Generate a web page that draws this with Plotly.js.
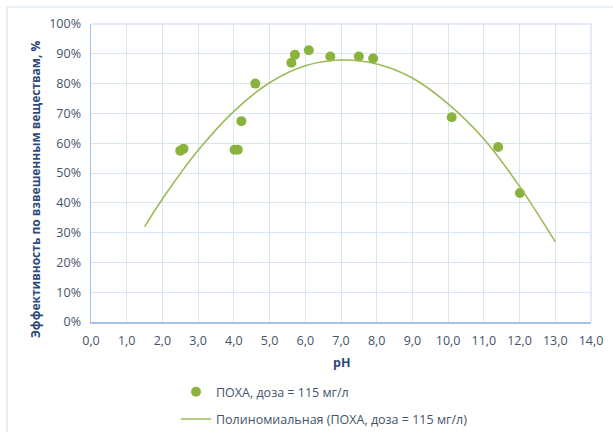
<!DOCTYPE html>
<html>
<head>
<meta charset="utf-8">
<script src="https://cdn.plot.ly/plotly-3.0.1.min.js"></script>
<style>html,body{margin:0;padding:0;background:#fff;}#chart{width:613px;height:432px;}</style>
</head>
<body>
<div id="chart"></div>
<script>
// measured points: pH and efficiency (%)
var pointsPH  = [2.50, 2.59, 4.02, 4.11, 4.21, 4.60, 5.61, 5.71, 6.10, 6.70, 7.50, 7.90, 10.10, 11.40, 12.01];
var pointsEff = [57.5, 58.1, 57.8, 57.8, 67.4, 80.0, 87.0, 89.7, 91.2, 89.1, 89.1, 88.4, 68.7, 58.7, 43.3];

// polynomial trendline
var trendPH  = [1.5, 2.0, 3.0, 4.0, 5.0, 6.0, 7.0, 8.0, 9.0, 10.0, 11.0, 12.0, 13.0];
var trendEff = [32.0, 41.3, 57.6, 70.7, 80.3, 86.0, 87.9, 86.6, 81.9, 73.2, 61.4, 45.5, 26.9];

var seriesName = 'ПОХА, доза = 115 мг/л';
var trendName  = 'Полиномиальная (ПОХА, доза = 115 мг/л)';
var xTitle = 'pH';
var yTitle = 'Эффективность по взвешенным веществам, %';

var textColor = '#44546A';
var gridColor = '#D9E5F5';
var axisColor = '#A7C1EA';
var font = '"Open Sans", "Noto Sans", sans-serif';

var data = [
  {
    x: pointsPH, y: pointsEff, type: 'scatter', mode: 'markers', name: seriesName,
    legendgroup: 'a',
    marker: {size: 10, color: '#8AB33E', line: {width: 0}}
  },
  {
    x: trendPH, y: trendEff, type: 'scatter', mode: 'lines', name: trendName,
    legendgroup: 'b',
    line: {color: '#9BBB59', width: 1.6, shape: 'spline', smoothing: 1}
  }
];

var layout = {
  width: 613, height: 432,
  margin: {l: 91, r: 22, t: 24, b: 110, autoexpand: false},
  paper_bgcolor: '#ffffff', plot_bgcolor: '#ffffff',
  separators: ', ',
  font: {family: font, size: 12.5, color: textColor},
  showlegend: true,
  legend: {
    x: 0.17, xanchor: 'left', y: -0.185, yanchor: 'top',
    orientation: 'v', traceorder: 'grouped', tracegroupgap: 8,
    font: {family: font, size: 12.5, color: textColor},
    bgcolor: 'rgba(0,0,0,0)'
  },
  xaxis: {
    range: [0, 14], dtick: 1, tick0: 0, tickformat: '.1f',
    showgrid: true, gridcolor: gridColor, gridwidth: 1,
    showline: true, linecolor: axisColor, linewidth: 1.5,
    zeroline: false, ticks: '', ticklabelstandoff: 6,
    tickfont: {family: font, size: 12.5, color: textColor},
    title: {text: ''}
  },
  yaxis: {
    range: [0, 100], dtick: 10, tick0: 0, ticksuffix: '%',
    showgrid: true, gridcolor: gridColor, gridwidth: 1,
    showline: true, linecolor: axisColor, linewidth: 1.5,
    zeroline: false, ticks: '', ticklabelstandoff: 6,
    tickfont: {family: font, size: 12.5, color: textColor},
    title: {text: ''}
  },
  annotations: [
    {text: '<b>' + xTitle + '</b>', xref: 'paper', yref: 'paper', x: 0.5, y: -0.135,
     xanchor: 'center', yanchor: 'middle', showarrow: false,
     font: {family: font, size: 12.5, color: '#2F4A7A'}},
    {text: '<b>' + yTitle + '</b>', xref: 'paper', yref: 'paper', x: -0.112, y: 0.446,
     xanchor: 'center', yanchor: 'middle', showarrow: false, textangle: -90,
     font: {family: font, size: 12, color: '#2F4A7A'}}
  ],
  shapes: [
    {type: 'line', xref: 'paper', yref: 'paper', x0: 1, x1: 1, y0: 0, y1: 1, line: {color: gridColor, width: 1.5}},
    {type: 'line', xref: 'paper', yref: 'paper', x0: 0, x1: 1, y0: 1, y1: 1, line: {color: gridColor, width: 1.5}},
    {type: 'line', xref: 'paper', yref: 'paper', x0: -0.168, x1: 1.1, y0: 1.057, y1: 1.057, line: {color: '#D6E2F0', width: 1.2}},
    {type: 'line', xref: 'paper', yref: 'paper', x0: -0.168, x1: -0.168, y0: 1.057, y1: -0.4, line: {color: '#D6E2F0', width: 1.2}}
  ]
};

Plotly.newPlot('chart', data, layout, {displayModeBar: false, staticPlot: true});
</script>
</body>
</html>
